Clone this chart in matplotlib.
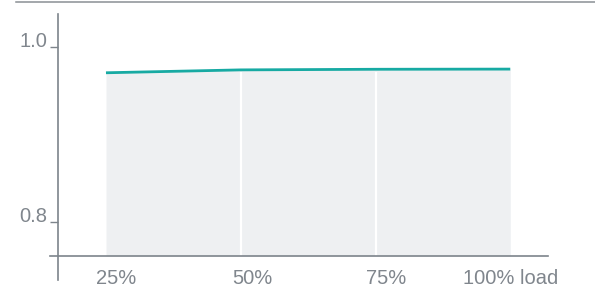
import matplotlib
matplotlib.use("Agg")
import matplotlib.pyplot as plt
import matplotlib.transforms as mtransforms
from matplotlib.lines import Line2D

# data
loads = [25, 50, 75, 100]
values = [0.9705, 0.9738, 0.9745, 0.9747]
xtick_labels = ["25%", "50%", "75%", "100% load"]
ytick_values = [0.8, 1.0]
ytick_labels = ["0.8", "1.0"]

TEAL = "#17aaa3"
FILL = "#eef0f2"
GRAY = "#7d848b"
TXT = "#80868d"

W, H = 595, 286
dpi = 100
fig = plt.figure(figsize=(W / dpi, H / dpi), dpi=dpi)
fig.patch.set_facecolor("white")

# axes region in pixels: x 58..548, y 14..256 (top-down)
ax = fig.add_axes([58 / W, (H - 256) / H, (548 - 58) / W, (256 - 14) / H])
ax.set_xlim(16.1, 107.0)
ax.set_ylim(0.761, 1.0377)
ax.set_facecolor("none")

base = ax.get_ylim()[0]
ax.fill_between(loads, base, values, color=FILL, lw=0, zorder=1)
for x in loads[1:-1]:
    ax.plot([x, x], [base, 0.9738 - 0.003], color="white", lw=1.6, zorder=2)
ax.plot(loads, values, color=TEAL, lw=2.0, solid_capstyle="butt", zorder=3)

for s in ax.spines.values():
    s.set_visible(False)

# custom spines extending beyond axes
ax.add_line(Line2D([0, 0], [-24 / 242, 1], transform=ax.transAxes, color=GRAY, lw=1.2, clip_on=False))
ax.add_line(Line2D([-8 / 490, 1], [0, 0], transform=ax.transAxes, color=GRAY, lw=1.2, clip_on=False))

# top rule
fig.add_artist(Line2D([16 / W, 1], [1 - 1.5 / H, 1 - 1.5 / H], transform=fig.transFigure, color="#8a8f94", lw=1.1))

font = "Liberation Sans"
ax.set_yticks(ytick_values)
ax.set_yticklabels(ytick_labels, fontsize=14.5, color=TXT, family=font)
ax.tick_params(axis="y", length=6, width=1.0, color=GRAY, pad=2, direction="out")
for lab in ax.get_yticklabels():
    lab.set_va("baseline")

ax.set_xticks(loads)
ax.set_xticklabels(xtick_labels, fontsize=14.5, color=TXT, family=font)
ax.tick_params(axis="x", length=0, pad=9)
offsets = [10, 12, 11, 0]
for lab, dx in zip(ax.get_xticklabels(), offsets):
    lab.set_transform(lab.get_transform() + mtransforms.ScaledTranslation(dx / dpi, 0, fig.dpi_scale_trans))

fig.savefig("out.png", dpi=dpi)
